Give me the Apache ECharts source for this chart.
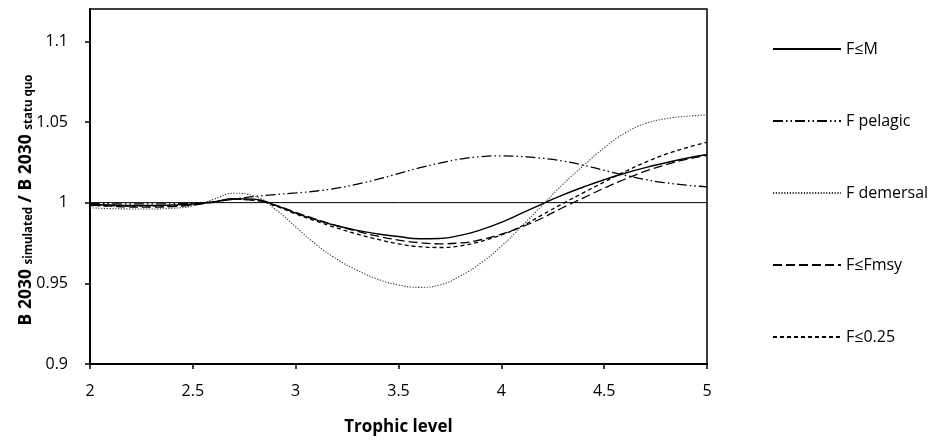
<!DOCTYPE html>
<html>
<head>
<meta charset="utf-8">
<script src="https://cdn.jsdelivr.net/npm/echarts@6/dist/echarts.min.js"></script>
<style>html,body{margin:0;padding:0;background:#fff}#c{width:946px;height:441px}</style>
</head>
<body>
<div id="c"></div>
<script>
const trophicLevels = [2.0, 2.1, 2.2, 2.3, 2.4, 2.5, 2.6, 2.7, 2.8, 2.9, 3.0, 3.1, 3.2, 3.3, 3.4, 3.5, 3.6, 3.7, 3.8, 3.9, 4.0, 4.1, 4.2, 4.3, 4.4, 4.5, 4.6, 4.7, 4.8, 4.9, 5.0];
const fM        = [0.9990, 0.9985, 0.9982, 0.9982, 0.9985, 0.9992, 1.0005, 1.0025, 1.0022, 0.9985, 0.9935, 0.9893, 0.9857, 0.9828, 0.9806, 0.9790, 0.9776, 0.9778, 0.9797, 0.9831, 0.9878, 0.9935, 0.9993, 1.0048, 1.0097, 1.0142, 1.0182, 1.0217, 1.0247, 1.0275, 1.0298];
const fPelagic  = [0.9995, 0.9993, 0.9992, 0.9992, 0.9993, 0.9996, 1.0005, 1.0022, 1.0038, 1.0050, 1.0060, 1.0072, 1.0090, 1.0115, 1.0145, 1.0180, 1.0215, 1.0245, 1.0270, 1.0285, 1.0290, 1.0285, 1.0275, 1.0258, 1.0232, 1.0200, 1.0170, 1.0143, 1.0123, 1.0108, 1.0098];
const fDemersal = [0.9968, 0.9963, 0.9961, 0.9961, 0.9965, 0.9980, 1.0020, 1.0058, 1.0040, 0.9960, 0.9850, 0.9740, 0.9650, 0.9580, 0.9525, 0.9490, 0.9475, 0.9490, 0.9545, 0.9625, 0.9730, 0.9855, 0.9985, 1.0115, 1.0230, 1.0340, 1.0430, 1.0490, 1.0520, 1.0535, 1.0543];
const fMsy      = [0.9985, 0.9978, 0.9973, 0.9972, 0.9975, 0.9985, 1.0003, 1.0020, 1.0015, 0.9985, 0.9940, 0.9897, 0.9857, 0.9822, 0.9792, 0.9768, 0.9752, 0.9745, 0.9750, 0.9770, 0.9805, 0.9850, 0.9905, 0.9970, 1.0030, 1.0090, 1.0145, 1.0195, 1.0235, 1.0268, 1.0292];
const f025      = [0.9982, 0.9980, 0.9978, 0.9978, 0.9980, 0.9988, 1.0003, 1.0020, 1.0015, 0.9980, 0.9930, 0.9885, 0.9843, 0.9805, 0.9772, 0.9745, 0.9727, 0.9722, 0.9732, 0.9760, 0.9800, 0.9855, 0.9925, 0.9995, 1.0062, 1.0128, 1.0192, 1.0250, 1.0300, 1.0340, 1.0375];
const seriesNames = ['F≤M', 'F pelagic', 'F demersal', 'F≤Fmsy', 'F≤0.25'];
const xTicks = [2, 2.5, 3, 3.5, 4, 4.5, 5];
const yTicks = [0.9, 0.95, 1, 1.05, 1.1];
const baseline = 1;
const yTitleParts = ['B 2030 ', 'simulated', ' / B 2030 ', 'statu quo'];

const FONT = 'Open Sans';
const pair = (ys) => trophicLevels.map((x, i) => [x, ys[i]]);
const styles = [
  {type: 'solid', width: 1.4, color: '#000'},
  {type: [10, 3, 1.5, 3, 1.5, 3], width: 1.3, color: '#000'},
  {type: [1.2, 1.6], width: 1.1, color: '#333'},
  {type: [9, 4], width: 1.3, color: '#000'},
  {type: [4, 3], width: 1.3, color: '#000'}
];
const dataSets = [fM, fPelagic, fDemersal, fMsy, f025];

const series = dataSets.map((d, i) => ({
  name: seriesNames[i], type: 'line', smooth: true, symbol: 'none',
  data: pair(d), lineStyle: styles[i], itemStyle: {color: '#000'}, z: 3
}));
series.push({
  name: 'baseline', type: 'line', symbol: 'none', silent: true,
  data: [[xTicks[0], baseline], [xTicks[xTicks.length - 1], baseline]],
  lineStyle: {color: '#000', width: 1}, z: 2
});

const chart = echarts.init(document.getElementById('c'));
chart.setOption({
  animation: false,
  backgroundColor: '#fff',
  textStyle: {fontFamily: FONT},
  grid: {left: 90, right: 239, top: 9, bottom: 73, show: true, borderColor: '#000', borderWidth: 1.5, backgroundColor: 'transparent'},
  legend: {
    data: seriesNames, orient: 'vertical', left: 767, top: 36,
    itemWidth: 68, itemHeight: 16, itemGap: 56,
    itemStyle: {opacity: 0},
    textStyle: {fontFamily: FONT, fontSize: 16, color: '#000'}
  },
  graphic: [{
    type: 'text', x: 24, y: 200, rotation: Math.PI / 2,
    style: {
      text: '{b|' + yTitleParts[0] + '}{s|' + yTitleParts[1] + '}{b|' + yTitleParts[2] + '}{s|' + yTitleParts[3] + '}',
      align: 'center', verticalAlign: 'middle',
      rich: {
        b: {fontFamily: FONT, fontSize: 17.5, fontWeight: 'bold', fill: '#000', lineHeight: 22, verticalAlign: 'bottom'},
        s: {fontFamily: FONT, fontSize: 11.5, fontWeight: 'bold', fill: '#000', lineHeight: 14, verticalAlign: 'bottom'}
      }
    }
  }],
  xAxis: {
    type: 'value', min: 2, max: 5, interval: 0.5,
    name: 'Trophic level', nameLocation: 'middle', nameGap: 55,
    nameTextStyle: {fontFamily: FONT, fontSize: 17, fontWeight: 'bold', color: '#000'},
    axisLine: {lineStyle: {color: '#000', width: 2}},
    axisTick: {show: true, length: 5, lineStyle: {color: '#000', width: 1.5}},
    axisLabel: {color: '#000', fontSize: 16, fontFamily: FONT, margin: 19},
    splitLine: {show: false}
  },
  yAxis: {
    type: 'value', min: 0.9, max: 1.12, interval: 0.05,
    axisLine: {lineStyle: {color: '#000', width: 2}},
    axisTick: {show: true, length: 5, lineStyle: {color: '#000', width: 1.5}, customValues: yTicks},
    axisLabel: {color: '#000', fontSize: 16, fontFamily: FONT, margin: 22, customValues: yTicks,
      formatter: v => String(parseFloat(v.toFixed(2)))},
    splitLine: {show: false}
  },
  series: series
});
</script>
</body>
</html>
